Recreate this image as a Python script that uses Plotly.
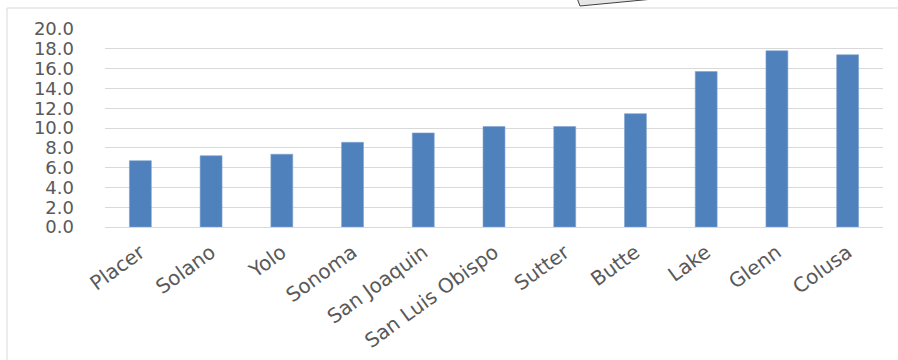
import plotly.graph_objects as go

counties = ["Placer", "Solano", "Yolo", "Sonoma", "San Joaquin", "San Luis Obispo",
            "Sutter", "Butte", "Lake", "Glenn", "Colusa"]
values = [6.7, 7.2, 7.35, 8.55, 9.5, 10.15, 10.15, 11.45, 15.7, 17.8, 17.4]
y_ticks = [0, 2, 4, 6, 8, 10, 12, 14, 16, 18, 20]

FONT = "DejaVu Sans"
TXT = "#595959"

L, R, T, B = 105, 15, 29, 133
PW, PH = 898 - L - R, 360 - T - B


def px(x):
    return (x - L) / PW


def py(y):
    return (360 - B - y) / PH


fig = go.Figure(go.Bar(
    x=counties, y=values,
    marker=dict(color="#4f81bd", line=dict(color="#7fa2d0", width=0.6)),
))

fig.update_layout(
    width=898, height=360,
    margin=dict(l=L, r=R, t=T, b=B, autoexpand=False),
    paper_bgcolor="white", plot_bgcolor="white",
    bargap=0.69,
    showlegend=False,
    font=dict(family=FONT, color=TXT, size=18),
    xaxis=dict(
        tickangle=-36, tickfont=dict(size=20, family=FONT, color=TXT),
        showline=False, showgrid=False, ticks="", zeroline=False, automargin=False,
        ticklabelstandoff=9,
    ),
    yaxis=dict(
        range=[0, 20], tickvals=y_ticks, tickformat=".1f",
        tickfont=dict(size=18, family=FONT, color=TXT),
        showgrid=True, gridcolor="#d9d9d9", gridwidth=1.2,
        zeroline=True, zerolinecolor="#d9d9d9", zerolinewidth=1.2,
        showline=False, ticks="", ticklabelstandoff=30, automargin=False,
    ),
    shapes=[
        dict(type="rect", xref="paper", yref="paper",
             x0=px(7), x1=px(912), y0=py(372), y1=py(8),
             line=dict(color="#d9d9d9", width=1), fillcolor="rgba(0,0,0,0)", layer="below"),
        dict(type="path", xref="paper", yref="paper",
             path="M {:.4f},{:.4f} L {:.4f},{:.4f} L {:.4f},{:.4f} Z".format(
                 px(577), py(-2), px(580), py(6), px(664), py(-2)),
             line=dict(color="#404040", width=1), fillcolor="#e6e6e6"),
    ],
)

fig.write_html("out.html", config={"displayModeBar": False},
               post_script="document.body.style.margin='0px';document.body.style.overflow='hidden';")
